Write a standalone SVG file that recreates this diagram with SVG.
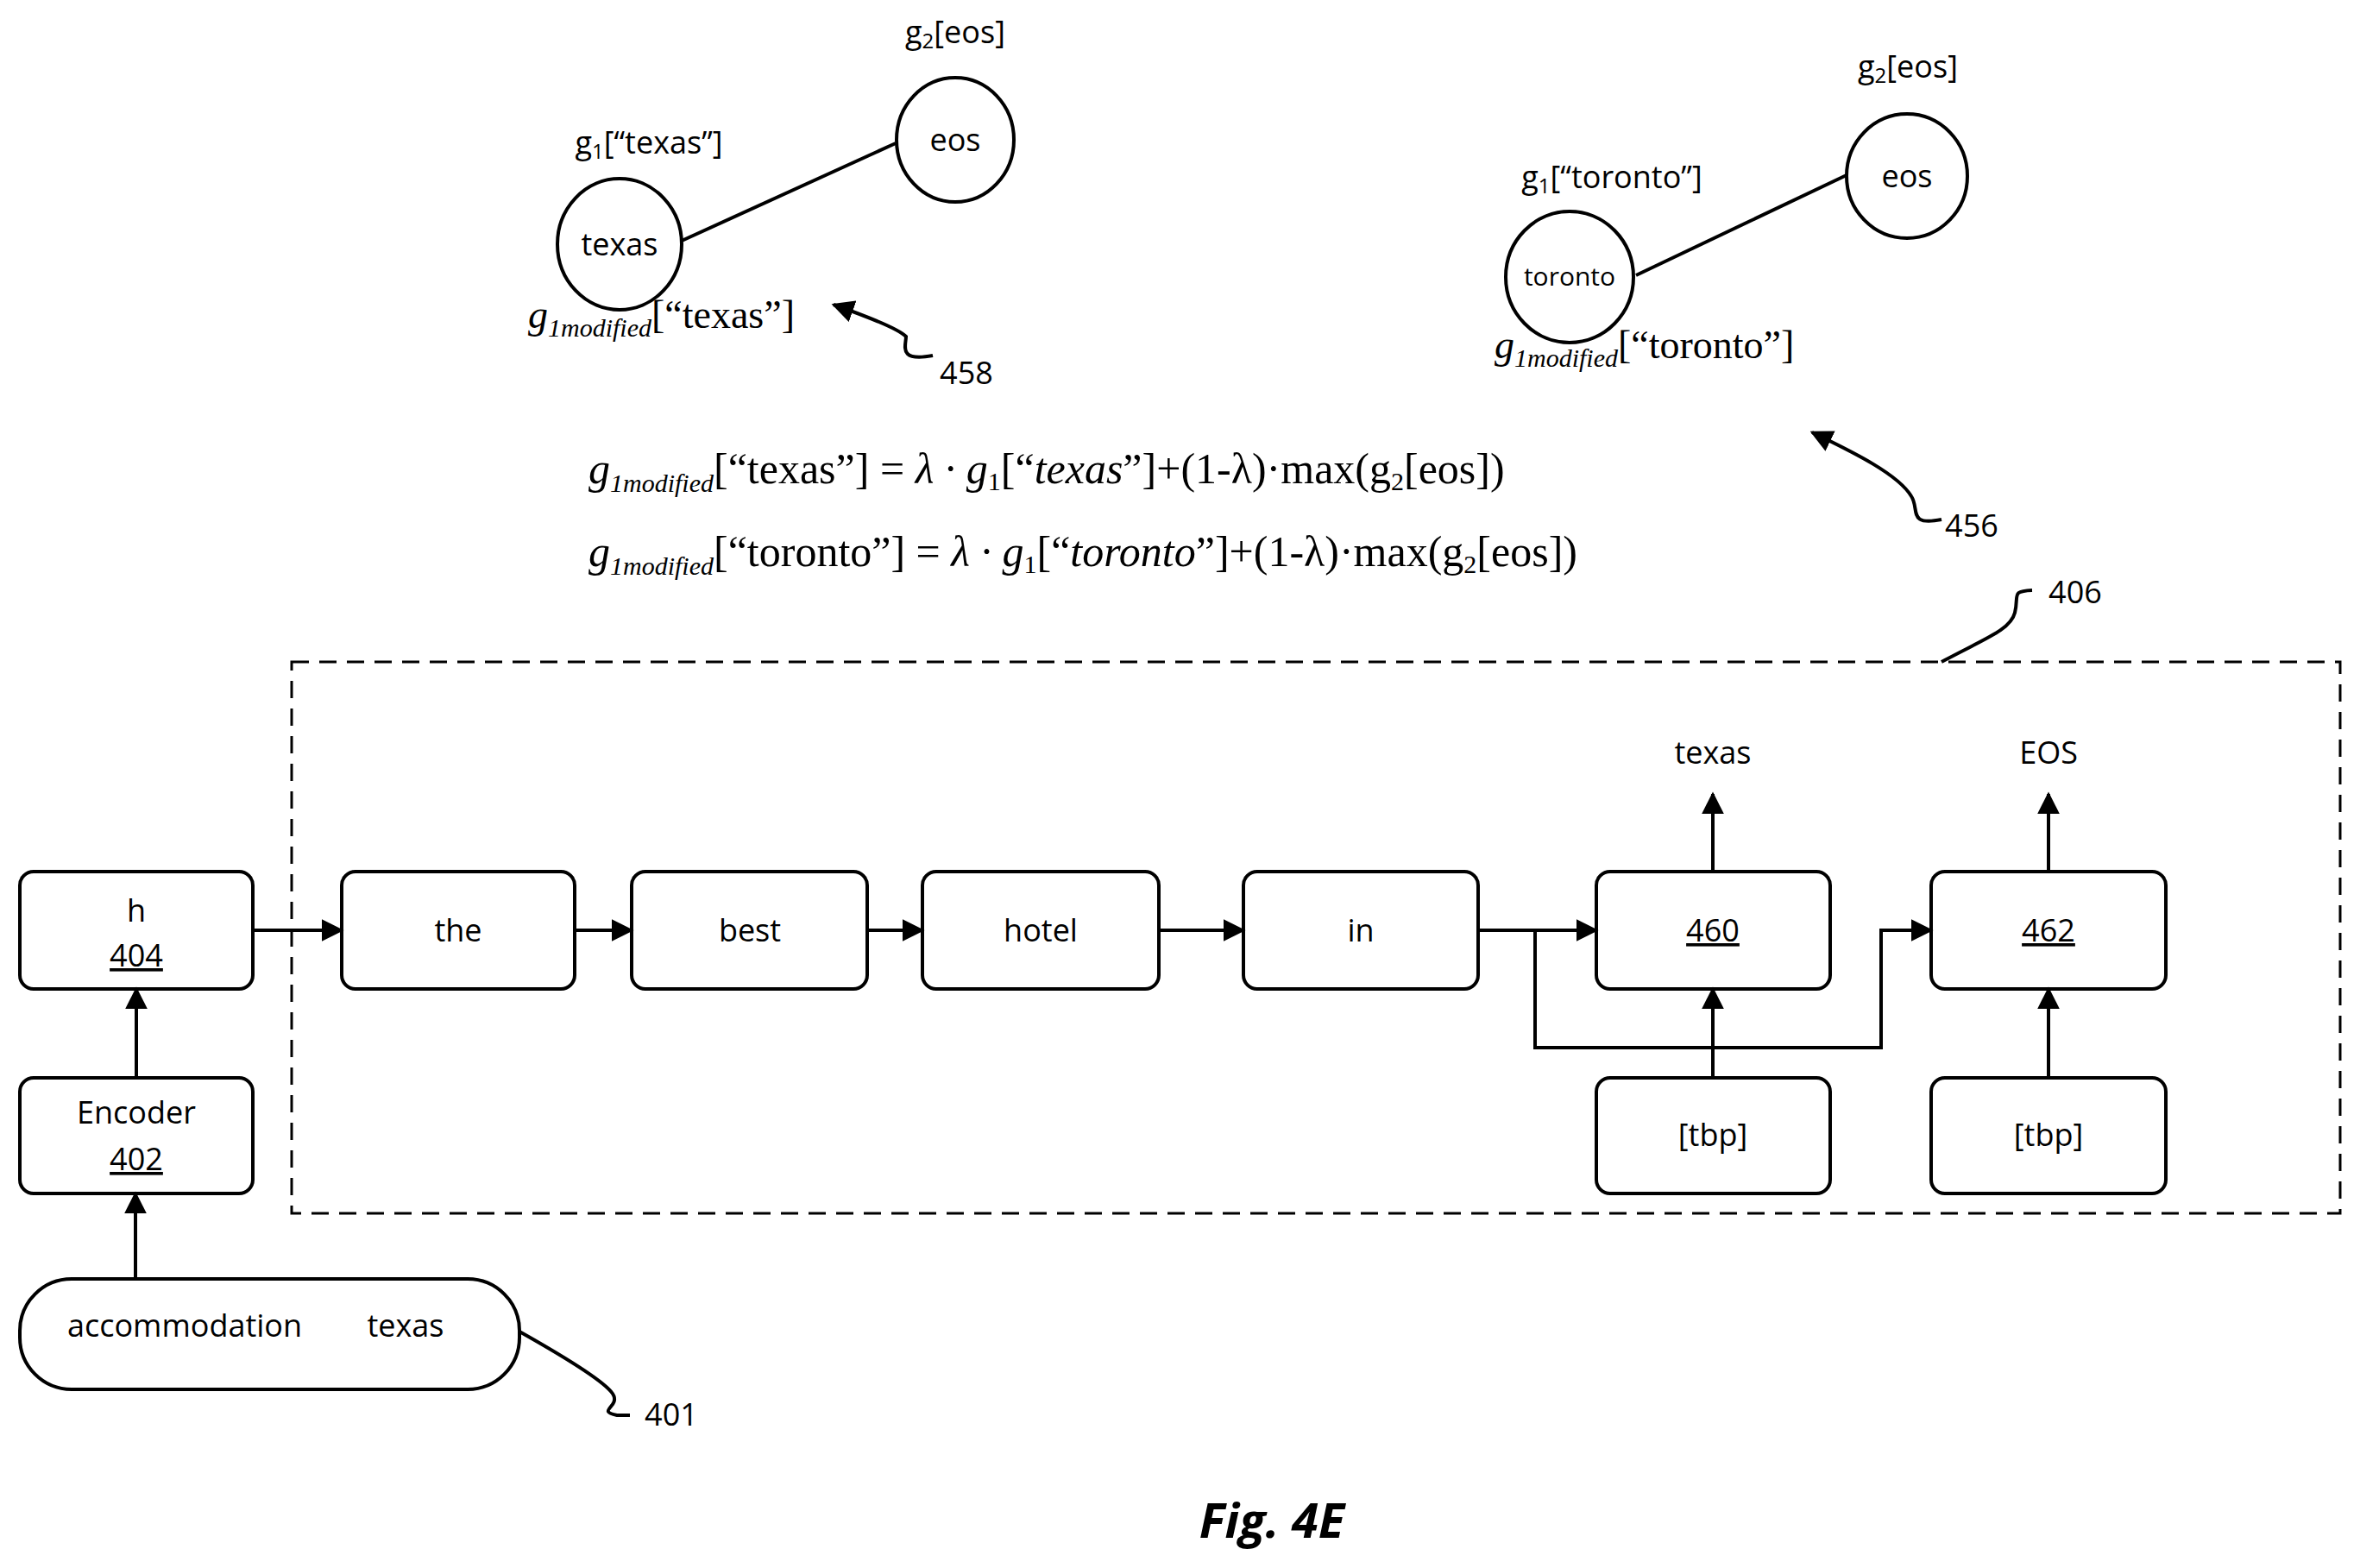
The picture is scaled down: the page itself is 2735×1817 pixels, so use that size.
<svg xmlns="http://www.w3.org/2000/svg" width="2735" height="1817" viewBox="0 0 2735 1817">
<style>
.b{fill:#fff;stroke:#000;stroke-width:4}
.t{font-family:"Open Sans","DejaVu Sans",sans-serif;font-size:36px;text-anchor:middle;fill:#000}
.m{font-family:"Liberation Serif",serif;font-size:50px;fill:#000}
.s{font-size:30px}
.l{stroke:#000;stroke-width:4;fill:none}
</style>
<defs>
<marker id="A" viewBox="0 0 10 10" refX="9" refY="5" markerWidth="26" markerHeight="26" orient="auto" markerUnits="userSpaceOnUse"><path d="M0,0L10,5L0,10z"/></marker></defs>
<rect x="338" y="767" width="2374" height="639" fill="none" stroke="#000" stroke-width="3" stroke-dasharray="20,12"/>
<g id="n404"><rect class="b" x="23" y="1010" width="270" height="136" rx="16"/><text class="t" x="158" y="1068">h</text><text class="t" x="158" y="1120" text-decoration="underline">404</text></g>
<g id="n402"><rect class="b" x="23" y="1249" width="270" height="134" rx="16"/><text class="t" x="158" y="1302">Encoder</text><text class="t" x="158" y="1356" text-decoration="underline">402</text></g>
<g id="n401"><rect class="b" x="23" y="1482" width="579" height="128" rx="60"/><text class="t" x="214" y="1549">accommodation</text><text class="t" x="470" y="1549">texas</text></g>
<g id="nthe"><rect class="b" x="396" y="1010" width="270" height="136" rx="16"/><text class="t" x="531" y="1091">the</text></g>
<g id="nbest"><rect class="b" x="732" y="1010" width="273" height="136" rx="16"/><text class="t" x="869" y="1091">best</text></g>
<g id="nhotel"><rect class="b" x="1069" y="1010" width="274" height="136" rx="16"/><text class="t" x="1206" y="1091">hotel</text></g>
<g id="nin"><rect class="b" x="1441" y="1010" width="272" height="136" rx="16"/><text class="t" x="1577" y="1091">in</text></g>
<g id="n460"><rect class="b" x="1850" y="1010" width="271" height="136" rx="16"/><text class="t" x="1985" y="1091" text-decoration="underline">460</text></g>
<g id="n462"><rect class="b" x="2238" y="1010" width="272" height="136" rx="16"/><text class="t" x="2374" y="1091" text-decoration="underline">462</text></g>
<g id="tbp1"><rect class="b" x="1850" y="1249" width="271" height="134" rx="16"/><text class="t" x="1985" y="1328">[tbp]</text></g>
<g id="tbp2"><rect class="b" x="2238" y="1249" width="272" height="134" rx="16"/><text class="t" x="2374" y="1328">[tbp]</text></g>
<text class="t" x="1985" y="885">texas</text>
<text class="t" x="2374" y="885">EOS</text>
<g id="connectors">
<path class="l" marker-end="url(#A)" d="M293,1078H396"/>
<path class="l" marker-end="url(#A)" d="M666,1078H732"/>
<path class="l" marker-end="url(#A)" d="M1005,1078H1069"/>
<path class="l" marker-end="url(#A)" d="M1343,1078H1441"/>
<path class="l" marker-end="url(#A)" d="M1713,1078H1850"/>
<path class="l" marker-end="url(#A)" d="M1779,1078V1214H2180V1078H2238"/>
<path class="l" marker-end="url(#A)" d="M1985,1249V1146"/>
<path class="l" marker-end="url(#A)" d="M2374,1249V1146"/>
<path class="l" marker-end="url(#A)" d="M1985,1010V920"/>
<path class="l" marker-end="url(#A)" d="M2374,1010V920"/>
<path class="l" marker-end="url(#A)" d="M158,1249V1146"/>
<path class="l" marker-end="url(#A)" d="M157,1482V1383"/>
<path class="l" stroke-width="3" d="M602,1543C650,1570 700,1600 710,1615C720,1630 690,1635 715,1640H730"/>
<text class="t" x="778" y="1652">401</text>
<path class="l" stroke-width="3" d="M2250,767C2300,740 2330,730 2335,710C2340,690 2330,685 2355,684"/>
<text class="t" x="2405" y="699">406</text>
<path class="l" stroke-width="3" d="M790,279L1038,166"/>
<path class="l" stroke-width="3" d="M1896,319L2142,202"/>
<path class="l" stroke-width="3" marker-end="url(#A)" d="M1081,412C1040,420 1050,400 1050,390C1040,380 1000,365 966,353"/>
<path class="l" stroke-width="3" marker-end="url(#A)" d="M2250,602C2210,610 2225,590 2215,575C2200,550 2150,525 2100,501"/>
</g>
<text class="t" x="1120" y="445">458</text>
<text class="t" x="2285" y="622">456</text>
<g id="texas"><ellipse class="b" cx="718" cy="283" rx="72" ry="76"/><text class="t" x="718" y="296">texas</text></g>
<g id="eos1"><ellipse class="b" cx="1107" cy="162" rx="68" ry="72"/><text class="t" x="1107" y="175">eos</text></g>
<g id="toronto"><ellipse class="b" cx="1819" cy="321" rx="74" ry="76"/><text class="t" x="1819" y="331" style="font-size:30px">toronto</text></g>
<g id="eos2"><ellipse class="b" cx="2210" cy="204" rx="70" ry="72"/><text class="t" x="2210" y="217">eos</text></g>
<text class="t" x="1107" y="50">g<tspan style="font-size:24px" dy="6">2</tspan><tspan dy="-6">[eos]</tspan></text>
<text class="t" x="2211" y="90">g<tspan style="font-size:24px" dy="6">2</tspan><tspan dy="-6">[eos]</tspan></text>
<text class="t" x="752" y="178">g<tspan style="font-size:24px" dy="6">1</tspan><tspan dy="-6">[“texas”]</tspan></text>
<text class="t" x="1868" y="218">g<tspan style="font-size:24px" dy="6">1</tspan><tspan dy="-6">[“toronto”]</tspan></text>
<text class="m" x="612" y="380" style="font-size:46px"><tspan font-style="italic">g</tspan><tspan class="s" font-style="italic" dy="10">1modified</tspan><tspan dy="-10">[“texas”]</tspan></text>
<text class="m" x="1732" y="415" style="font-size:46px"><tspan font-style="italic">g</tspan><tspan class="s" font-style="italic" dy="10">1modified</tspan><tspan dy="-10">[“toronto”]</tspan></text>
<text class="m" x="682" y="560"><tspan font-style="italic">g</tspan><tspan class="s" font-style="italic" dy="10">1modified</tspan><tspan dy="-10">[“texas”] = </tspan><tspan font-style="italic">λ · g</tspan><tspan class="s" dy="8">1</tspan><tspan dy="-8">[“</tspan><tspan font-style="italic">texas</tspan><tspan>”]+(1-λ)·max(g</tspan><tspan class="s" dy="8">2</tspan><tspan dy="-8">[eos])</tspan></text>
<text class="m" x="682" y="656"><tspan font-style="italic">g</tspan><tspan class="s" font-style="italic" dy="10">1modified</tspan><tspan dy="-10">[“toronto”] = </tspan><tspan font-style="italic">λ · g</tspan><tspan class="s" dy="8">1</tspan><tspan dy="-8">[“</tspan><tspan font-style="italic">toronto</tspan><tspan>”]+(1-λ)·max(g</tspan><tspan class="s" dy="8">2</tspan><tspan dy="-8">[eos])</tspan></text>
<text x="1474" y="1782" font-family="'Open Sans',sans-serif" font-size="56" font-weight="bold" font-style="italic" text-anchor="middle">Fig. 4E</text>
</svg>
